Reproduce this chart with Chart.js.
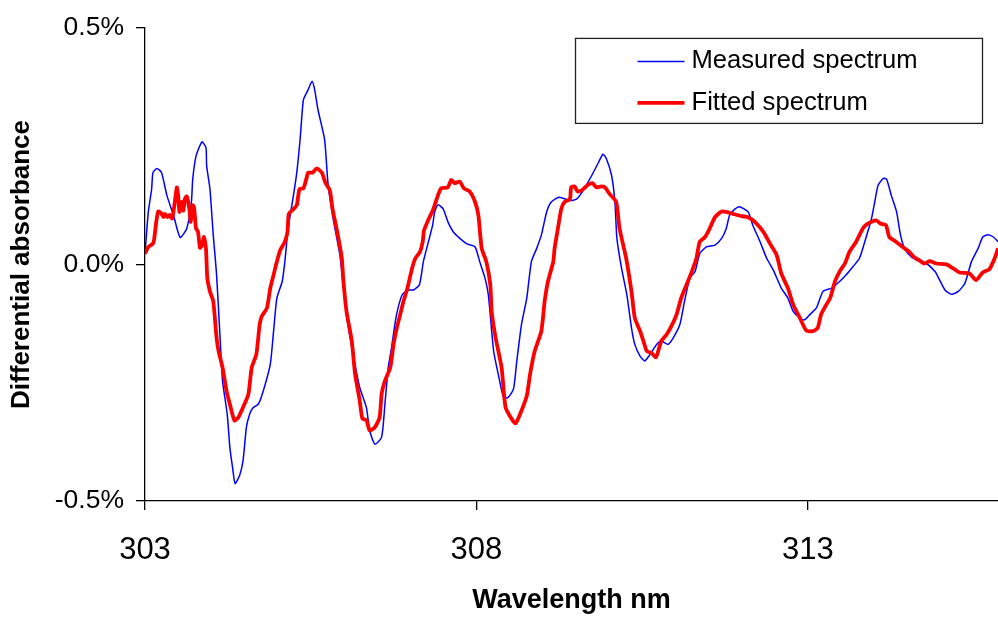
<!DOCTYPE html>
<html>
<head>
<meta charset="utf-8">
<script src="https://cdn.jsdelivr.net/npm/chart.js@4.4.1/dist/chart.umd.min.js"></script>
<style>
  html, body { margin: 0; padding: 0; background: #fff; }
  #wrap { width: 998px; height: 619px; }
</style>
</head>
<body>
<div id="wrap"><canvas id="spectrumChart" width="998" height="619"></canvas></div>
<script>
// Measured spectrum (blue), wavelength in nm / differential absorbance in %
const measuredWl = [303.00, 303.05, 303.10, 303.12, 303.18, 303.25, 303.33, 303.43, 303.53, 303.63, 303.70, 303.72, 303.77, 303.86, 303.92, 303.93, 303.98, 304.03, 304.08, 304.13, 304.17, 304.24, 304.28, 304.32, 304.36, 304.43, 304.48, 304.53, 304.58, 304.63, 304.71, 304.77, 304.89, 304.94, 304.99, 305.07, 305.11, 305.16, 305.24, 305.29, 305.34, 305.39, 305.46, 305.52, 305.56, 305.61, 305.71, 305.76, 305.84, 305.94, 306.04, 306.14, 306.24, 306.34, 306.39, 306.47, 306.57, 306.62, 306.67, 306.72, 306.79, 306.88, 306.97, 307.05, 307.14, 307.20, 307.25, 307.34, 307.37, 307.42, 307.50, 307.57, 307.65, 307.75, 307.85, 307.98, 308.05, 308.13, 308.18, 308.26, 308.33, 308.41, 308.48, 308.56, 308.61, 308.68, 308.76, 308.83, 308.91, 308.98, 309.06, 309.13, 309.25, 309.41, 309.51, 309.61, 309.74, 309.84, 309.91, 309.96, 310.04, 310.09, 310.12, 310.19, 310.27, 310.34, 310.39, 310.47, 310.54, 310.62, 310.72, 310.79, 310.89, 310.97, 311.07, 311.14, 311.22, 311.30, 311.37, 311.47, 311.60, 311.70, 311.77, 311.82, 311.90, 311.97, 312.10, 312.17, 312.28, 312.38, 312.48, 312.60, 312.70, 312.78, 312.88, 312.95, 313.03, 313.13, 313.23, 313.36, 313.48, 313.58, 313.68, 313.78, 313.86, 313.96, 314.01, 314.06, 314.14, 314.19, 314.26, 314.34, 314.39, 314.44, 314.51, 314.64, 314.79, 314.92, 314.99, 315.07, 315.17, 315.27, 315.37, 315.47, 315.57, 315.64, 315.72, 315.80, 315.87];
const measuredAbs = [0.023, 0.111, 0.159, 0.194, 0.203, 0.194, 0.146, 0.104, 0.057, 0.076, 0.132, 0.180, 0.229, 0.259, 0.247, 0.209, 0.159, 0.062, -0.022, -0.148, -0.246, -0.316, -0.386, -0.428, -0.463, -0.445, -0.414, -0.344, -0.316, -0.303, -0.295, -0.274, -0.211, -0.141, -0.071, -0.036, 0.006, 0.076, 0.146, 0.194, 0.264, 0.348, 0.369, 0.387, 0.369, 0.327, 0.264, 0.173, 0.096, 0.020, -0.106, -0.190, -0.260, -0.302, -0.351, -0.380, -0.365, -0.295, -0.218, -0.176, -0.110, -0.064, -0.054, -0.054, -0.043, 0.006, 0.034, 0.083, 0.111, 0.126, 0.117, 0.090, 0.069, 0.055, 0.044, 0.037, 0.006, -0.029, -0.064, -0.183, -0.232, -0.281, -0.281, -0.263, -0.204, -0.127, -0.071, 0.006, 0.034, 0.062, 0.111, 0.132, 0.142, 0.135, 0.138, 0.156, 0.188, 0.215, 0.233, 0.224, 0.188, 0.132, 0.055, -0.008, -0.064, -0.134, -0.169, -0.194, -0.204, -0.190, -0.169, -0.162, -0.169, -0.155, -0.127, -0.078, -0.029, -0.015, 0.023, 0.037, 0.041, 0.055, 0.076, 0.104, 0.117, 0.122, 0.111, 0.083, 0.048, 0.013, -0.012, -0.050, -0.071, -0.099, -0.113, -0.117, -0.106, -0.092, -0.057, -0.050, -0.036, -0.022, -0.005, 0.013, 0.048, 0.096, 0.132, 0.167, 0.182, 0.180, 0.146, 0.111, 0.069, 0.041, 0.023, 0.009, 0.002, -0.015, -0.033, -0.054, -0.063, -0.057, -0.040, 0.006, 0.034, 0.058, 0.063, 0.058, 0.048];

// Fitted spectrum (red)
const fittedWl = [303.00, 303.05, 303.12, 303.14, 303.17, 303.20, 303.24, 303.28, 303.30, 303.34, 303.37, 303.41, 303.45, 303.48, 303.50, 303.52, 303.55, 303.58, 303.60, 303.63, 303.67, 303.69, 303.72, 303.74, 303.77, 303.80, 303.83, 303.86, 303.89, 303.92, 303.94, 303.98, 304.03, 304.08, 304.11, 304.17, 304.23, 304.28, 304.35, 304.41, 304.48, 304.56, 304.61, 304.68, 304.73, 304.76, 304.84, 304.89, 304.94, 304.99, 305.04, 305.11, 305.15, 305.17, 305.24, 305.29, 305.33, 305.39, 305.44, 305.46, 305.53, 305.59, 305.67, 305.72, 305.79, 305.83, 305.90, 305.97, 305.99, 306.04, 306.12, 306.17, 306.24, 306.28, 306.34, 306.39, 306.47, 306.54, 306.57, 306.62, 306.70, 306.75, 306.80, 306.85, 306.90, 306.96, 307.03, 307.08, 307.15, 307.19, 307.21, 307.28, 307.35, 307.42, 307.47, 307.57, 307.62, 307.67, 307.75, 307.81, 307.90, 307.98, 308.03, 308.08, 308.15, 308.21, 308.23, 308.29, 308.38, 308.44, 308.53, 308.59, 308.66, 308.76, 308.81, 308.88, 308.98, 309.03, 309.08, 309.16, 309.18, 309.23, 309.28, 309.33, 309.41, 309.43, 309.48, 309.53, 309.61, 309.68, 309.75, 309.81, 309.88, 309.94, 310.01, 310.11, 310.16, 310.26, 310.34, 310.39, 310.47, 310.52, 310.57, 310.64, 310.71, 310.79, 310.87, 310.94, 311.02, 311.09, 311.17, 311.25, 311.32, 311.37, 311.45, 311.52, 311.60, 311.70, 311.77, 311.87, 312.00, 312.10, 312.20, 312.33, 312.43, 312.53, 312.60, 312.70, 312.78, 312.88, 312.98, 313.08, 313.15, 313.20, 313.28, 313.34, 313.41, 313.48, 313.56, 313.63, 313.73, 313.83, 313.90, 314.03, 314.10, 314.18, 314.23, 314.33, 314.43, 314.53, 314.60, 314.68, 314.76, 314.84, 314.94, 315.09, 315.19, 315.29, 315.44, 315.54, 315.64, 315.74, 315.82, 315.87];
const fittedAbs = [0.023, 0.037, 0.044, 0.055, 0.090, 0.112, 0.109, 0.100, 0.107, 0.100, 0.105, 0.097, 0.132, 0.163, 0.146, 0.111, 0.132, 0.114, 0.138, 0.144, 0.117, 0.090, 0.125, 0.121, 0.076, 0.069, 0.035, 0.041, 0.058, 0.034, -0.029, -0.057, -0.078, -0.155, -0.183, -0.218, -0.267, -0.295, -0.330, -0.323, -0.302, -0.274, -0.218, -0.190, -0.127, -0.110, -0.092, -0.050, -0.022, 0.006, 0.030, 0.048, 0.069, 0.107, 0.117, 0.125, 0.159, 0.161, 0.184, 0.194, 0.194, 0.203, 0.194, 0.173, 0.156, 0.117, 0.069, 0.013, -0.029, -0.099, -0.162, -0.232, -0.288, -0.326, -0.329, -0.351, -0.344, -0.323, -0.274, -0.246, -0.218, -0.169, -0.134, -0.106, -0.078, -0.050, -0.008, 0.013, 0.027, 0.048, 0.072, 0.096, 0.117, 0.146, 0.161, 0.163, 0.179, 0.172, 0.175, 0.161, 0.154, 0.132, 0.104, 0.034, 0.006, -0.043, -0.099, -0.155, -0.218, -0.302, -0.326, -0.336, -0.316, -0.278, -0.232, -0.183, -0.141, -0.078, -0.036, 0.006, 0.034, 0.076, 0.117, 0.132, 0.138, 0.163, 0.165, 0.154, 0.159, 0.168, 0.172, 0.163, 0.165, 0.163, 0.149, 0.132, 0.076, 0.013, -0.057, -0.113, -0.141, -0.162, -0.183, -0.187, -0.196, -0.162, -0.148, -0.131, -0.106, -0.071, -0.043, -0.015, 0.013, 0.048, 0.058, 0.076, 0.100, 0.112, 0.111, 0.107, 0.102, 0.100, 0.090, 0.069, 0.044, 0.020, -0.019, -0.050, -0.085, -0.113, -0.140, -0.141, -0.134, -0.106, -0.085, -0.070, -0.036, -0.015, 0.002, 0.027, 0.048, 0.076, 0.086, 0.093, 0.086, 0.083, 0.058, 0.048, 0.037, 0.027, 0.016, 0.009, 0.002, 0.007, 0.002, 0.000, -0.008, -0.017, -0.019, -0.033, -0.017, -0.010, 0.013, 0.034];

const xTicks = [303, 308, 313];
const yTicks = [-0.5, 0.0, 0.5];
const seriesNames = ['Measured spectrum', 'Fitted spectrum'];

const FONT = '"Liberation Sans", Arial, Helvetica, sans-serif';

function toPoints(xs, ys) {
    return xs.map((x, i) => ({ x: x, y: ys[i] }));
}

// simple boxed legend inside the plot, like the spreadsheet original
const boxLegend = {
    id: 'boxLegend',
    afterDraw(chart) {
        const ctx = chart.ctx;
        const area = chart.chartArea;
        const right = area.right - 15.5;
        const left = right - 407;
        const top = area.top + 10.5;
        const h = 85;
        ctx.save();
        ctx.fillStyle = '#fff';
        ctx.fillRect(left, top, right - left, h);
        ctx.strokeStyle = '#222';
        ctx.lineWidth = 1.3;
        ctx.strokeRect(left, top, right - left, h);
        ctx.font = '25.6px ' + FONT;
        ctx.textBaseline = 'middle';
        chart.data.datasets.forEach((ds, i) => {
            const y = top + 23 + i * 41.5;
            ctx.strokeStyle = ds.borderColor;
            ctx.lineWidth = ds.borderWidth;
            ctx.beginPath();
            ctx.moveTo(left + 62, y);
            ctx.lineTo(left + 109, y);
            ctx.stroke();
            ctx.fillStyle = '#000';
            ctx.fillText(ds.label, left + 116, y);
        });
        ctx.restore();
    }
};

const ctx = document.getElementById('spectrumChart').getContext('2d');

const chart = new Chart(ctx, {
    type: 'line',
    data: {
        datasets: [
            {
                label: seriesNames[0],
                data: toPoints(measuredWl, measuredAbs),
                borderColor: 'rgb(0, 0, 255)',
                borderWidth: 1.5,
                pointRadius: 0,
                tension: 0.2,
                fill: false,
                order: 2
            },
            {
                label: seriesNames[1],
                data: toPoints(fittedWl, fittedAbs),
                borderColor: 'rgb(255, 0, 0)',
                borderWidth: 3.8,
                pointRadius: 0,
                tension: 0.2,
                fill: false,
                order: 1
            }
        ]
    },
    options: {
        responsive: false,
        animation: false,
        events: [],
        layout: { padding: { left: 0, right: 0, top: 24, bottom: 0 } },
        plugins: {
            legend: { display: false },
            tooltip: { enabled: false }
        },
        scales: {
            x: {
                type: 'linear',
                min: 303,
                max: 315.87,
                afterBuildTicks: (scale) => { scale.ticks = xTicks.map(v => ({ value: v })); },
                afterFit: (scale) => { scale.height = 118; },
                border: { display: true, color: '#000', width: 1.3 },
                grid: { display: true, drawOnChartArea: false, drawTicks: true, tickLength: 9, color: '#000', lineWidth: 1.3 },
                ticks: {
                    color: '#000',
                    padding: 22,
                    maxRotation: 0,
                    font: { family: FONT, size: 31 },
                    callback: (v) => String(v)
                },
                title: {
                    display: true,
                    text: 'Wavelength nm',
                    color: '#000',
                    font: { family: FONT, size: 27, weight: 'bold' },
                    padding: { top: 0, bottom: 2 }
                }
            },
            y: {
                type: 'linear',
                min: -0.5,
                max: 0.5,
                afterBuildTicks: (scale) => { scale.ticks = yTicks.map(v => ({ value: v })); },
                afterFit: (scale) => { scale.width = 145; },
                border: { display: true, color: '#000', width: 1.3 },
                grid: { display: true, drawOnChartArea: false, drawTicks: true, tickLength: 9, color: '#000', lineWidth: 1.3 },
                ticks: {
                    color: '#000',
                    padding: 12,
                    font: { family: FONT, size: 26.5 },
                    callback: (v) => v.toFixed(1) + '%'
                },
                title: {
                    display: true,
                    text: 'Differential absorbance',
                    color: '#000',
                    font: { family: FONT, size: 26, weight: 'bold' },
                    padding: { top: 6, bottom: 0 }
                }
            }
        }
    },
    plugins: [boxLegend]
});
</script>
</body>
</html>
